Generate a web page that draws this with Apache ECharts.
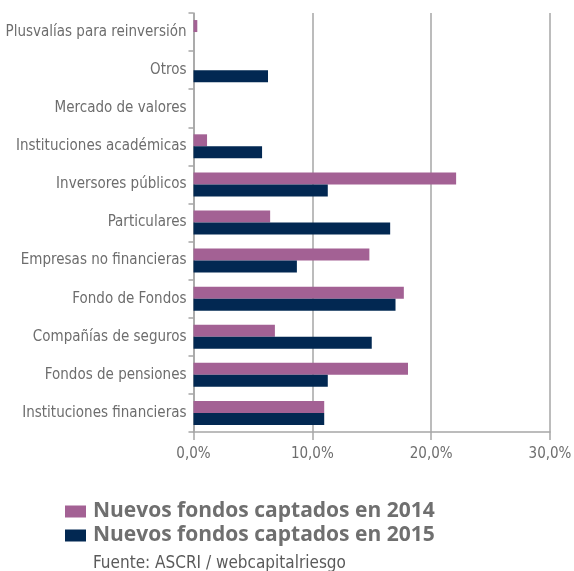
<!DOCTYPE html>
<html>
<head>
<meta charset="utf-8">
<script src="https://cdn.jsdelivr.net/npm/echarts@6/dist/echarts.min.js"></script>
<style>html,body{margin:0;padding:0;background:#fff;}#c{width:574px;height:571px;}</style>
</head>
<body>
<div id="c"></div>
<script>
const categories = ['Instituciones financieras','Fondos de pensiones','Compañías de seguros','Fondo de Fondos','Empresas no financieras','Particulares','Inversores públicos','Instituciones académicas','Mercado de valores','Otros','Plusvalías para reinversión'];
const series2014 = [11.0, 18.05, 6.85, 17.7, 14.8, 6.45, 22.1, 1.14, 0, 0, 0.32];
const series2015 = [11.0, 11.3, 15.0, 17.0, 8.7, 16.55, 11.3, 5.77, 0, 6.27, 0];
const seriesNames = ['Nuevos fondos captados en 2014','Nuevos fondos captados en 2015'];
const sourceText = 'Fuente: ASCRI / webcapitalriesgo';
const xTicks = {min: 0, max: 30, interval: 10};

const FONT = '"Liberation Sans Narrow", "DejaVu Sans Condensed", Lato, sans-serif';
const chart = echarts.init(document.getElementById('c'), null, {renderer: 'canvas'});
chart.setOption({
  animation: false,
  grid: {left: 193.5, right: 24, top: 13, bottom: 139, containLabel: false, outerBoundsMode: 'none'},
  legend: {
    orient: 'vertical', left: 60, top: 496,
    itemWidth: 21, itemHeight: 12, itemGap: 3,
    icon: 'rect',
    textStyle: {fontFamily: '"Open Sans", sans-serif', fontWeight: 'bold', fontSize: 21, color: '#6f6f6f', padding: [0,0,0,2]},
    data: seriesNames
  },
  graphic: [{
    type: 'text', left: 93, top: 555,
    style: {text: sourceText, font: '17px ' + FONT, fill: '#5a5a5a'}
  }],
  xAxis: {
    type: 'value', min: xTicks.min, max: xTicks.max, interval: xTicks.interval,
    axisLine: {show: true, lineStyle: {color: '#a6a6a6', width: 1.5}},
    axisTick: {show: true, length: 8, lineStyle: {color: '#a6a6a6', width: 1.5}},
    splitLine: {show: true, lineStyle: {color: '#a6a6a6', width: 1.5}},
    axisLabel: {formatter: v => v.toFixed(1).replace('.', ',') + '%', color: '#6d6d6d', fontSize: 15, fontFamily: FONT, margin: 15}
  },
  yAxis: {
    type: 'category', data: categories, boundaryGap: true,
    axisLine: {show: true, lineStyle: {color: '#a6a6a6', width: 1.5}},
    axisTick: {show: true, length: 5, lineStyle: {color: '#a6a6a6', width: 1.5}},
    axisLabel: {color: '#6d6d6d', fontSize: 15, fontFamily: FONT, margin: 7}
  },
  series: [
    {name: seriesNames[0], type: 'bar', data: series2014, barWidth: 12, barGap: '0%', itemStyle: {color: '#a36194'}},
    {name: seriesNames[1], type: 'bar', data: series2015, barWidth: 12, barGap: '0%', itemStyle: {color: '#022852'}}
  ]
});
</script>
</body>
</html>
